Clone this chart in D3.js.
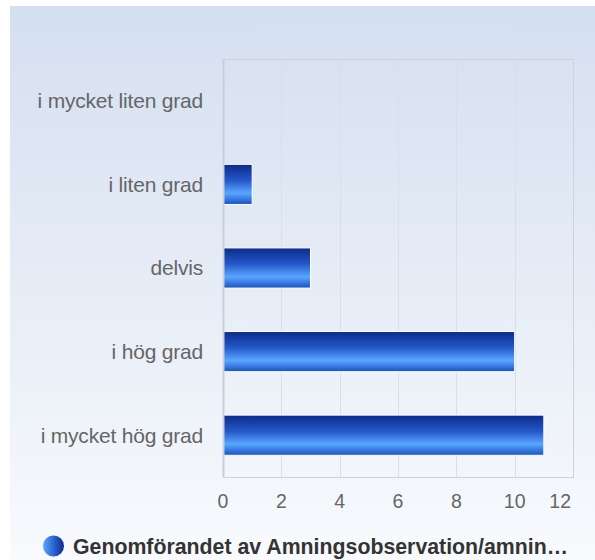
<!DOCTYPE html>
<meta charset="utf-8">
<html>
<head>
<title>Genomförandet</title>
<style>
    body {
        margin: 0;
        background: #fff;
        font-family: "Liberation Sans", Arial, sans-serif;
    }
</style>
<script src="https://d3js.org/d3.v7.min.js"></script>
</head>
<body>
<div id="chart"></div>
<script>

// data
var categories = ["i mycket liten grad", "i liten grad", "delvis", "i hög grad", "i mycket hög grad"];
var values = [0, 1, 3, 10, 11];
var xTicks = [0, 2, 4, 6, 8, 10, 12];
var seriesName = "Genomförandet av Amningsobservation/amnin…";

var width = 595, height = 560;
var margin = {top: 59, right: 22, bottom: 83, left: 223};

var svg = d3.select("#chart")
  .append("svg")
    .attr("width", width)
    .attr("height", height);

var defs = svg.append("defs");

// background gradient
var bg = defs.append("linearGradient")
    .attr("id", "bg").attr("x1", 0).attr("y1", 0).attr("x2", 0).attr("y2", 1);
bg.append("stop").attr("offset", "0%").attr("stop-color", "#d4dff0");
bg.append("stop").attr("offset", "100%").attr("stop-color", "#f8fafd");

// bar gradient
var bar = defs.append("linearGradient")
    .attr("id", "bar").attr("x1", 0).attr("y1", 0).attr("x2", 0).attr("y2", 1);
bar.append("stop").attr("offset", "0%").attr("stop-color", "#0b2b8a");
bar.append("stop").attr("offset", "40%").attr("stop-color", "#2458c8");
bar.append("stop").attr("offset", "72%").attr("stop-color", "#5aa6ff");
bar.append("stop").attr("offset", "100%").attr("stop-color", "#1852c4");

// legend icon gradient
var ico = defs.append("linearGradient")
    .attr("id", "ico").attr("x1", 0).attr("y1", 0).attr("x2", 1).attr("y2", 0);
ico.append("stop").attr("offset", "0%").attr("stop-color", "#5aa6ff");
ico.append("stop").attr("offset", "60%").attr("stop-color", "#2458c8");
ico.append("stop").attr("offset", "100%").attr("stop-color", "#0b2b8a");

svg.append("rect")
    .attr("x", 10).attr("y", 6)
    .attr("width", width - 10).attr("height", height - 6)
    .attr("fill", "url(#bg)");

var pw = width - margin.left - margin.right,
    ph = height - margin.top - margin.bottom;

var x = d3.scaleLinear().domain([0, 12]).range([0, pw]);
var y = d3.scaleBand().domain(categories).range([0, ph]).paddingInner(0.52).paddingOuter(0.26);

var g = svg.append("g")
    .attr("transform", "translate(" + margin.left + "," + margin.top + ")");

// plot border
g.append("rect")
    .attr("x", 0.5).attr("y", 0.5)
    .attr("width", pw).attr("height", ph)
    .attr("fill", "none")
    .attr("stroke", "#cfd3d9");

// gridlines
g.selectAll(".grid")
    .data(xTicks.slice(1, -1))
  .enter().append("line")
    .attr("x1", function(d) { return Math.round(x(d)) + 0.5; })
    .attr("x2", function(d) { return Math.round(x(d)) + 0.5; })
    .attr("y1", 0).attr("y2", ph)
    .attr("stroke", "#dadee6");

// bars
g.selectAll(".bar")
    .data(values)
  .enter().append("rect")
    .attr("x", 0)
    .attr("y", function(d, i) { return y(categories[i]); })
    .attr("width", function(d) { return x(d); })
    .attr("height", y.bandwidth())
    .attr("fill", "url(#bar)")
    .attr("stroke", function(d) { return d > 0 ? "#fff" : "none"; })
    .attr("stroke-width", 1);

// left axis line
g.append("line")
    .attr("x1", 0.5).attr("x2", 0.5)
    .attr("y1", 0).attr("y2", ph)
    .attr("stroke", "#c6cfde")
    .attr("stroke-width", 2);

// y labels
g.selectAll(".ylab")
    .data(categories)
  .enter().append("text")
    .attr("x", -20)
    .attr("y", function(d) { return y(d) + y.bandwidth() / 2; })
    .attr("dy", "0.35em")
    .attr("text-anchor", "end")
    .attr("font-size", 21)
    .attr("letter-spacing", -0.2)
    .attr("fill", "#666")
    .text(function(d) { return d; });

// x labels
g.selectAll(".xlab")
    .data(xTicks)
  .enter().append("text")
    .attr("x", function(d, i) { return i == xTicks.length - 1 ? pw - 2 : x(d); })
    .attr("y", ph + 31)
    .attr("text-anchor", function(d, i) { return i == xTicks.length - 1 ? "end" : "middle"; })
    .attr("font-size", 19.5)
    .attr("fill", "#666")
    .text(function(d) { return d; });

// legend
svg.append("circle")
    .attr("cx", 53.5).attr("cy", 546).attr("r", 10.5)
    .attr("fill", "url(#ico)");
svg.append("text")
    .attr("x", 73).attr("y", 554)
    .attr("font-size", 21.3)
    .attr("font-weight", "bold")
    .attr("fill", "#333")
    .text(seriesName);

</script>
</body>
</html>
